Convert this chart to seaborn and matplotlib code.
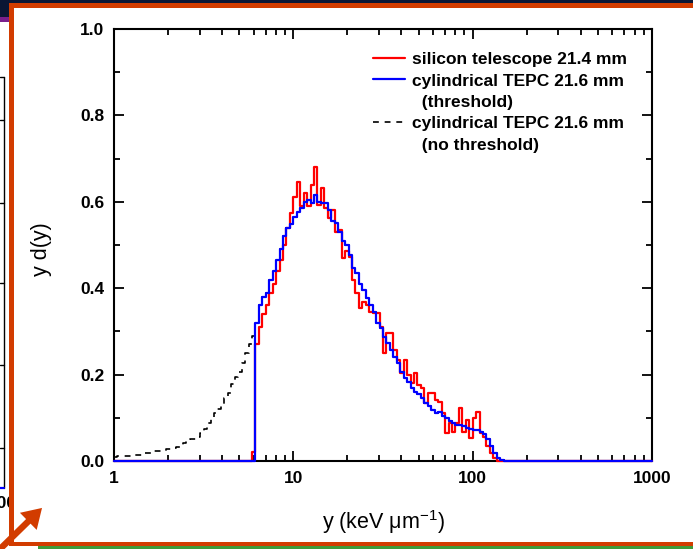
import numpy as np
import pandas as pd
import matplotlib
matplotlib.use("Agg")
import matplotlib.pyplot as plt
import seaborn as sns
from matplotlib.patches import Rectangle, FancyArrowPatch, ArrowStyle
from matplotlib.lines import Line2D
from matplotlib.ticker import LogLocator, NullFormatter, MultipleLocator, FormatStrFormatter

# ---------------- data (y d(y) per logarithmic bin, 52 bins per decade from y = 1) ----------------
BINS_PER_DECADE = 52
X_DECADES = 3  # 1 .. 1000 keV/um

# cylindrical TEPC 21.6 mm, no threshold: bins 0..40 (below the threshold)
tepc_nothr_low = [
    0.010, 0.012, 0.012, 0.012, 0.012, 0.015, 0.015, 0.015, 0.018, 0.018,
    0.018, 0.022, 0.022, 0.024, 0.024, 0.027, 0.027, 0.030, 0.032, 0.035,
    0.042, 0.048, 0.050, 0.052, 0.055, 0.065, 0.075, 0.088, 0.098, 0.110,
    0.120, 0.133, 0.145, 0.157, 0.178, 0.195, 0.205, 0.228, 0.250, 0.270,
    0.290,
]
# cylindrical TEPC 21.6 mm, threshold: bins 41..112
TEPC_THR_START_BIN = 41
tepc_thr_vals = [
    0.320, 0.360, 0.380, 0.390, 0.420, 0.440, 0.465, 0.490, 0.520, 0.540,
    0.548, 0.565, 0.576, 0.585, 0.600, 0.604, 0.597, 0.616, 0.600, 0.597,
    0.597, 0.580, 0.555, 0.550, 0.530, 0.510, 0.500, 0.477, 0.447, 0.435,
    0.410, 0.396, 0.377, 0.361, 0.345, 0.320, 0.308, 0.287, 0.273, 0.257,
    0.241, 0.227, 0.206, 0.192, 0.183, 0.168, 0.160, 0.155, 0.146, 0.135,
    0.128, 0.118, 0.111, 0.113, 0.105, 0.100, 0.092, 0.088, 0.083, 0.083,
    0.080, 0.076, 0.074, 0.072, 0.072, 0.068, 0.062, 0.050, 0.035, 0.018,
    0.007, 0.002,
]
# silicon telescope 21.4 mm: bins 40..110
SILICON_START_BIN = 40
silicon_vals = [
    0.020,
    0.270, 0.310, 0.340, 0.360, 0.390, 0.410, 0.440, 0.465, 0.500, 0.540,
    0.575, 0.610, 0.645, 0.590, 0.620, 0.590, 0.640, 0.680, 0.592, 0.632,
    0.586, 0.562, 0.580, 0.530, 0.535, 0.470, 0.485, 0.472, 0.420, 0.390,
    0.354, 0.368, 0.360, 0.345, 0.342, 0.342, 0.310, 0.250, 0.296, 0.296,
    0.257, 0.234, 0.203, 0.234, 0.200, 0.180, 0.204, 0.176, 0.169, 0.134,
    0.157, 0.157, 0.141, 0.137, 0.111, 0.065, 0.088, 0.067, 0.088, 0.123,
    0.067, 0.095, 0.053, 0.100, 0.113, 0.065, 0.056, 0.035, 0.018, 0.007,
]

legend_labels = ["silicon telescope 21.4 mm", "cylindrical TEPC 21.6 mm", "  (threshold)",
                 "cylindrical TEPC 21.6 mm", "  (no threshold)"]
x_ticks = [1, 10, 100, 1000]
x_tick_labels = ["1", "10", "100", "1000"]

# ---------------- build step series ----------------
n_bins = BINS_PER_DECADE * X_DECADES
edges = np.logspace(0, X_DECADES, n_bins + 1)


def pad(vals, start):
    arr = np.zeros(n_bins)
    arr[start:start + len(vals)] = vals
    return arr


silicon = pad(silicon_vals, SILICON_START_BIN)
tepc_thr = pad(tepc_thr_vals, TEPC_THR_START_BIN)
tepc_nothr = pad(tepc_nothr_low + tepc_thr_vals, 0)


def step_df(vals):
    return pd.DataFrame({"y": edges, "yd": np.append(vals, vals[-1])})


# ---------------- style ----------------
sns.set_style("ticks")
plt.rcParams["font.family"] = ["Liberation Sans", "DejaVu Sans"]
plt.rcParams["mathtext.fontset"] = "custom"
plt.rcParams["mathtext.rm"] = "Liberation Sans"
plt.rcParams["mathtext.it"] = "Liberation Sans:italic"
for k in ["axes.edgecolor", "xtick.color", "ytick.color", "text.color", "axes.labelcolor"]:
    plt.rcParams[k] = "black"

W, H = 693, 549
fig = plt.figure(figsize=(W / 100, H / 100), dpi=100)
fig.patch.set_facecolor("white")


def fx(x):
    return x / W


def fy(y):
    return 1 - y / H


def px_rect(x0, y0, x1, y1, color, z):
    fig.add_artist(Rectangle((fx(x0), fy(y1)), (x1 - x0) / W, (y1 - y0) / H,
                             transform=fig.transFigure, facecolor=color,
                             edgecolor="none", zorder=z))


ORANGE = "#d23c00"

# partial plot of the slide behind the inset (left edge)
for (xa, ya, xb, yb, c, lw) in [(4, 77, 4, 488, "black", 1.0), (0, 77, 4, 77, "black", 1.0),
                                (0, 488, 4, 488, "#0000ff", 1.6)]:
    fig.add_artist(Line2D([fx(xa), fx(xb)], [fy(ya), fy(yb)], transform=fig.transFigure,
                          color=c, lw=lw, zorder=-3))
for yt in [120, 203, 283, 365, 448]:
    fig.add_artist(Line2D([fx(0), fx(4)], [fy(yt), fy(yt)], transform=fig.transFigure,
                          color="black", lw=1.0, zorder=-3))
fig.text(fx(17), fy(504), "100", ha="right", va="center", fontsize=12.5,
         fontweight="bold", zorder=-3)

# white inset panel
px_rect(14, 8, W, 542, "white", -1)
# slide background decorations
px_rect(0, 0, W, 3, "#0b1634", 4)
px_rect(0, 0, 9, 17, "#0b1634", 4)
px_rect(0, 17, 9, 22, "#7a1f8c", 4)
px_rect(9, 3, W, 8, ORANGE, 5)
px_rect(9, 3, 14, 546, ORANGE, 5)
px_rect(9, 542, W, 546, ORANGE, 5)
px_rect(38, 546, W, H, "#3f9b3a", 5)
arrow = FancyArrowPatch(posA=(fx(-3), fy(552)), posB=(fx(44), fy(506)),
                        transform=fig.transFigure,
                        arrowstyle=ArrowStyle.Simple(head_length=0.6, head_width=0.75, tail_width=0.2),
                        mutation_scale=23, color=ORANGE, zorder=6, lw=0)
fig.add_artist(arrow)

# ---------------- main axes ----------------
ax = fig.add_axes([fx(114), fy(461), 538 / W, 432 / H])
ax.set_facecolor("white")

sns.lineplot(data=step_df(silicon), x="y", y="yd", ax=ax, color="#ff0000", lw=1.6,
             drawstyle="steps-post", estimator=None, sort=False, clip_on=False, zorder=3)
sns.lineplot(data=step_df(tepc_nothr), x="y", y="yd", ax=ax, color="black", lw=1.2,
             linestyle=(0, (3.5, 3.5)), drawstyle="steps-post", estimator=None, sort=False,
             clip_on=False, zorder=4)
sns.lineplot(data=step_df(tepc_thr), x="y", y="yd", ax=ax, color="#0000ff", lw=1.6,
             drawstyle="steps-post", estimator=None, sort=False, clip_on=False, zorder=5)

ax.set_xscale("log")
ax.set_xlim(1, 1000)
ax.set_ylim(0, 1.0)
ax.set_xticks(x_ticks)
ax.set_xticklabels(x_tick_labels)
ax.xaxis.set_minor_locator(LogLocator(base=10, subs=np.arange(2, 10)))
ax.xaxis.set_minor_formatter(NullFormatter())
ax.yaxis.set_major_locator(MultipleLocator(0.2))
ax.yaxis.set_minor_locator(MultipleLocator(0.1))
ax.yaxis.set_major_formatter(FormatStrFormatter("%.1f"))

ax.tick_params(which="both", direction="in", top=True, right=True, width=1.3, colors="black")
ax.tick_params(which="major", length=7, labelsize=12.5, pad=7)
ax.tick_params(which="minor", length=4)
for lab in ax.get_xticklabels() + ax.get_yticklabels():
    lab.set_fontweight("bold")
for sp in ax.spines.values():
    sp.set_linewidth(1.5)
    sp.set_color("black")

ax.set_xlabel("y (keV μm$^{-1}$)", fontsize=15.5)
ax.set_ylabel("y d(y)", fontsize=15.5)
ax.xaxis.set_label_coords(0.5, -0.108)
ax.yaxis.set_label_coords(-0.115, 0.49)

handles = [Line2D([], [], color="#ff0000", lw=1.6),
           Line2D([], [], color="#0000ff", lw=1.6),
           Line2D([], [], color="none"),
           Line2D([], [], color="black", lw=1.2, linestyle=(0, (3.5, 3.5))),
           Line2D([], [], color="none")]
ax.legend(handles, legend_labels, loc="upper left", bbox_to_anchor=(fx(373), fy(52)),
          bbox_transform=fig.transFigure, frameon=False, borderpad=0, borderaxespad=0,
          handlelength=1.85, handletextpad=0.4, labelspacing=0.36,
          prop={"weight": "bold", "size": 12.5})

fig.savefig("out.png", dpi=100, facecolor="white")
